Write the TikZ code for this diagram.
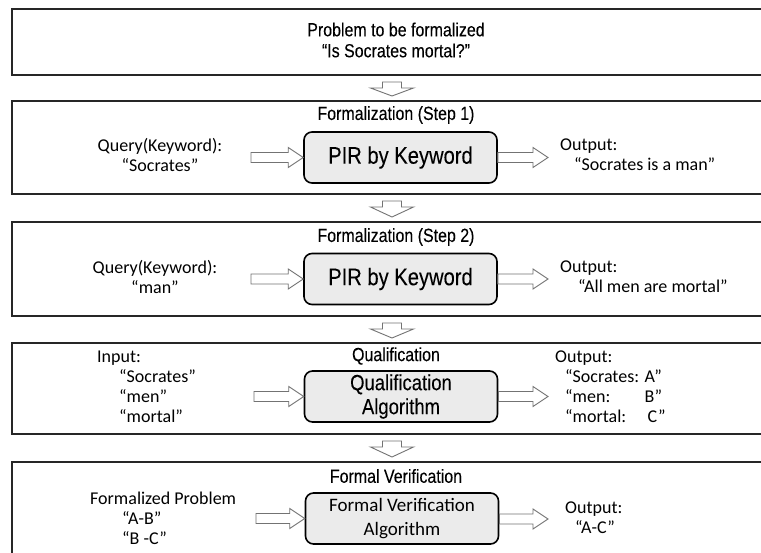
\documentclass[tikz,border=0pt]{standalone}
\usepackage{fontspec}
\setmainfont{Carlito}
\newfontfamily\narrowf{Liberation Sans}[FakeStretch=0.84, FakeBold=0.12]
\usetikzlibrary{calc}

\tikzset{
  x=1pt, y=-1pt,
  stage/.style={draw=black!85, line width=2pt, fill=white, minimum width=774pt, inner sep=0pt},
  proc/.style={draw=black, line width=1.6pt, rounded corners=8pt, fill=black!8,
               minimum width=193pt, minimum height=51pt, align=center, inner sep=0pt},
  head/.style={font=\narrowf\fontsize{19}{21}\selectfont, inner sep=0pt},
  lbl/.style={font=\fontsize{18}{20}\selectfont, inner sep=0pt},
  blk/.style={draw=black!55, line width=0.9pt, fill=white, line join=miter},
}

% horizontal block arrow from coordinate #1 to the point #2 (tip)
\newcommand\rightblock[2]{%
  \draw[blk] let \p1=(#1), \p2=(#2) in
    (\x1,\y2+5pt) -- (\x2-15pt,\y2+5pt) -- (\x2-15pt,\y2+10pt) -- (\x2,\y2)
    -- (\x2-15pt,\y2-10pt) -- (\x2-15pt,\y2-5pt) -- (\x1,\y2-5pt) -- cycle;}
% vertical block arrow between the bottom of stage #1 and the top of stage #2
\newcommand\downblock[2]{%
  \draw[blk] let \p1=(#1.south), \p2=(#2.north) in
    (392pt-9.5pt,\y1-6pt) -- (392pt+9.5pt,\y1-6pt) -- (392pt+9.5pt,\y1-12pt)
    -- (392pt+21.5pt,\y1-12pt) -- (392pt,\y2+4pt) -- (392pt-21.5pt,\y1-12pt)
    -- (392pt-9.5pt,\y1-12pt) -- cycle;}

\begin{document}
\begin{tikzpicture}
\useasboundingbox (0,0) rectangle (761,553);
\clip (0,0) rectangle (761,553);
\fill[white] (0,0) rectangle (761,553);

% the five stages
\node[stage, minimum height=66pt]  (s1) at (399,42)    {};
\node[stage, minimum height=93pt]  (s2) at (399,147.5) {};
\node[stage, minimum height=94pt]  (s3) at (399,269)   {};
\node[stage, minimum height=91pt]  (s4) at (399,388.5) {};
\node[stage, minimum height=138pt] (s5) at (399,531)   {};

% stage 1
\node[head, align=center, font=\narrowf\fontsize{19}{21}\selectfont] (t1) at (396,40)
  {Problem to be formalized\\“Is Socrates mortal?”};

% stage 2
\node[head] (t2) at (396,115) {Formalization (Step 1)};
\node[proc, font=\narrowf\fontsize{24}{26}\selectfont] (p2) at (400.5,157.5) {PIR by Keyword};
\node[lbl, align=center] (q2) at (160,155) {Query(Keyword):\\“Socrates”};
\node[lbl, align=left, anchor=west] (o2) at (560,155) {Output:\\\hspace*{14pt}“Socrates is a man”};
\coordinate (i2) at (251,157);
\rightblock{i2}{p2.west}
\coordinate (e2) at (p2.east);
\coordinate (f2) at (548,157.5);
\rightblock{e2}{f2}

% stage 3
\node[head] (t3) at (396,237) {Formalization (Step 2)};
\node[proc, font=\narrowf\fontsize{24}{26}\selectfont] (p3) at (400.5,279) {PIR by Keyword};
\node[lbl, align=center] (q3) at (155,277) {Query(Keyword):\\“man”};
\node[lbl, align=left, anchor=west] (o3) at (560,277) {Output:\\\hspace*{18pt}“All men are mortal”};
\coordinate (i3) at (251,279);
\rightblock{i3}{p3.west}
\coordinate (e3) at (p3.east);
\coordinate (f3) at (548,279);
\rightblock{e3}{f3}

% stage 4
\node[head] (t4) at (396,356) {Qualification};
\node[proc, font=\narrowf\fontsize{22}{24}\selectfont] (p4) at (401,396.5) {Qualification\\Algorithm};
\node[lbl, align=left, anchor=west] (q4) at (97,387)
  {Input:\\\hspace*{22pt}“Socrates”\\\hspace*{22pt}“men”\\\hspace*{22pt}“mortal”};
\node[lbl, align=left, anchor=west] (o4) at (555,387)
  {Output:\\\hspace*{10pt}“\makebox[72pt][l]{Socrates:}A”\\
   \hspace*{10pt}“\makebox[72pt][l]{men:}B”\\\hspace*{10pt}“\makebox[75pt][l]{mortal:}C”};
\coordinate (i4) at (254,396.5);
\rightblock{i4}{p4.west}
\coordinate (e4) at (p4.east);
\coordinate (f4) at (548,396.5);
\rightblock{e4}{f4}

% stage 5
\node[head] (t5) at (396,476) {Formal Verification};
\node[proc, font=\fontsize{19}{24}\selectfont] (p5) at (402,518.5) {Formal Verification\\Algorithm};
\node[lbl, align=left, anchor=west] (q5) at (90,518)
  {Formalized Problem\\\hspace*{32pt}“A-B”\\\hspace*{32pt}“B -C”};
\node[lbl, align=left, anchor=west] (o5) at (565,518) {Output:\\\hspace*{10pt}“A-C”};
\coordinate (i5) at (256,519);
\rightblock{i5}{p5.west}
\coordinate (e5) at (p5.east);
\coordinate (f5) at (548,519);
\rightblock{e5}{f5}

% transitions between stages
\downblock{s1}{s2}
\downblock{s2}{s3}
\downblock{s3}{s4}
\downblock{s4}{s5}
\end{tikzpicture}
\end{document}
